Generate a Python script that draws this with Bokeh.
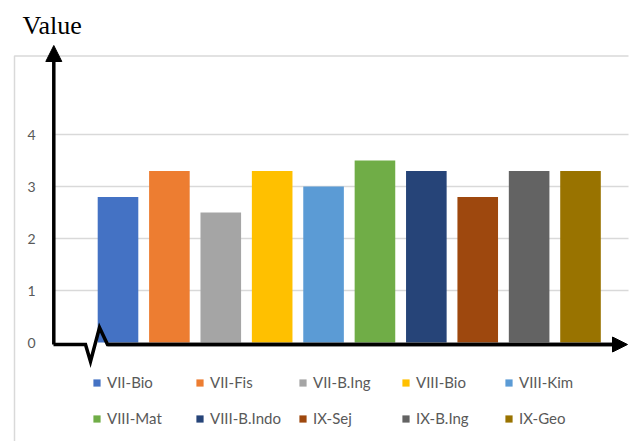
from bokeh.plotting import figure
from bokeh.models import (ColumnDataSource, Range1d, Arrow, NormalHead, Legend, LegendItem)
from bokeh.core.properties import value
from bokeh.embed import file_html
from bokeh.resources import INLINE

# ---- data ----
categories = ["VII-Bio", "VII-Fis", "VII-B.Ing", "VIII-Bio", "VIII-Kim",
              "VIII-Mat", "VIII-B.Indo", "IX-Sej", "IX-B.Ing", "IX-Geo"]
values = [2.8, 3.3, 2.5, 3.3, 3.0, 3.5, 3.3, 2.8, 3.3, 3.3]
colors = ["#4472C4", "#ED7D31", "#A5A5A5", "#FFC000", "#5B9BD5",
          "#70AD47", "#264478", "#9E480E", "#636363", "#997300"]
y_ticks = [0, 1, 2, 3, 4]
y_title = "Value"

# ---- geometry (frame covers whole canvas) ----
W, H = 635, 441
STEP = 51.39          # px per category
UNIT = 52.0           # px per value unit
X0 = -117.5 / STEP
X1 = X0 + W / STEP
Y1 = 342.0 / UNIT
Y0 = Y1 - H / UNIT


def dx(px):  # pixel -> data x
    return X0 + px / W * (X1 - X0)


def dy(py):  # pixel -> data y
    return Y1 - py / H * (Y1 - Y0)


p = figure(width=W, height=H, x_range=Range1d(X0, X1), y_range=Range1d(Y0, Y1),
           output_backend="svg", toolbar_location=None, min_border=0,
           x_axis_location=None, y_axis_location=None, outline_line_color=None,
           background_fill_color="white", border_fill_color="white")
p.grid.visible = False

GRAY = "#595959"
FONT = value("Lato")

# chart border (top + left)
p.line(x=[dx(14), dx(14), dx(628)], y=[dy(460), dy(55.5), dy(55.5)],
       line_color="#D9D9D9", line_width=1.5)

# gridlines
gl = [t for t in y_ticks if t > 0]
p.segment(x0=[dx(53)] * len(gl), x1=[dx(628)] * len(gl), y0=gl, y1=gl,
          line_color="#D9D9D9", line_width=1.5)

# bars
src = ColumnDataSource(dict(x=list(range(len(categories))), top=values,
                            color=colors, cat=categories))
r = p.vbar(x="x", top="top", bottom=0, width=0.79, fill_color="color",
           line_color=None, source=src)

# y tick labels
p.text(x=[dx(31)] * len(y_ticks), y=y_ticks, text=[str(t) for t in y_ticks],
       text_align="center", text_baseline="middle", text_color=GRAY,
       text_font=FONT, text_font_size="14px")

# axis title
p.text(x=[dx(22)], y=[dy(24.5)], text=[y_title], text_align="left",
       text_baseline="middle", text_color="black",
       text_font=value("Liberation Serif"), text_font_size="26px")

# broken x-axis line with zigzag
ya = dy(344)
p.line(x=[dx(53), dx(85), dx(90), dx(99), dx(107), dx(615)],
       y=[ya, ya, dy(361), dy(327), ya, ya],
       line_color="black", line_width=3.5, line_join="miter")

# arrows
p.add_layout(Arrow(end=NormalHead(size=16, fill_color="black", line_color="black", line_width=1),
                   x_start=dx(53.3), y_start=ya, x_end=dx(53.3), y_end=dy(45),
                   line_color="black", line_width=3.5))
p.add_layout(Arrow(end=NormalHead(size=15, fill_color="black", line_color="black", line_width=1),
                   x_start=dx(107), y_start=ya, x_end=dx(627), y_end=ya,
                   line_color="black", line_width=3.5))

# legends (two rows)
def make_legend(idx, loc):
    items = [LegendItem(label=categories[i], renderers=[r], index=i) for i in idx]
    lg = Legend(items=items, orientation="horizontal", location=loc,
                glyph_width=9, glyph_height=9, label_standoff=6, label_width=88,
                spacing=0, padding=0, margin=0, border_line_color=None,
                background_fill_alpha=0, label_text_color=GRAY,
                label_text_font="Lato", label_text_font_size="15px")
    p.add_layout(lg)

make_legend(range(0, 5), (92, 50))
make_legend(range(5, 10), (92, 14))

open("out.html", "w").write(file_html(p, INLINE))
